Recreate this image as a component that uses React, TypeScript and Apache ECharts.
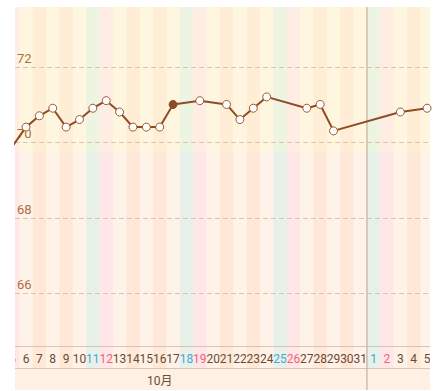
import { useEffect, useRef } from 'react';
import * as echarts from 'echarts';

// Day labels shown on the x axis (Oct 5 2014 .. Nov 5 2014), one per column
const dayLabels = ['5','6','7','8','9','10','11','12','13','14','15','16','17','18','19','20','21','22','23','24','25','26','27','28','29','30','31','1','2','3','4','5'];
// Weekday of each column (0 = Sunday, 6 = Saturday)
const weekdays = [0,1,2,3,4,5,6,0,1,2,3,4,5,6,0,1,2,3,4,5,6,0,1,2,3,4,5,6,0,1,2,3];
// Weight readings per column (null = no record)
const weights: (number | null)[] = [69.9,70.4,70.7,70.9,70.4,70.6,70.9,71.1,70.8,70.4,70.4,70.4,71.0,null,71.1,null,71.0,70.6,70.9,71.2,null,null,70.9,71.0,70.3,null,null,null,null,70.8,null,70.9];
// Highlighted (filled) reading
const highlightIndex = 12;
// Y tick values
const yTicks = [66, 68, 70, 72];
// Months (label, first column index, last column index)
const monthLabels = ['10月', '11月'];
const monthStart = [-4, 27];
const monthEnd = [26, 56];

const X_MIN = 0.177, X_MAX = 31.217;
const Y_MIN = 63.44, Y_MAX = 73.58, BAND_SPLIT = 69.74;

const UPPER = ['#FFF6E0', '#FFEDD5', '#EEF4E2', '#FFEDE3'];
const LOWER = ['#FFF2E8', '#FFE8D8', '#E8F1E9', '#FFE7E7'];
const kindOf = (wd: number) => (wd === 6 ? 2 : wd === 0 ? 3 : wd % 2 === 1 ? 0 : 1);
const labelColor = (wd: number) => (wd === 6 ? '#3FA9DA' : wd === 0 ? '#F2637A' : '#6B4B35');

export default function App() {
  const ref = useRef<HTMLDivElement>(null);
  useEffect(() => {
    const chart = echarts.init(ref.current!, null, { renderer: 'svg' });
    const colData = dayLabels.map((_, i) => [i, kindOf(weekdays[i])]);
    const monthData = monthLabels.map((_, m) => [monthStart[m], monthEnd[m]]);
    const tickData = yTicks.map((v) => [X_MIN, v]);
    const points: any[] = [];
    weights.forEach((v, i) => {
      if (v === null) return;
      if (i === highlightIndex) {
        points.push({ value: [i, v], itemStyle: { color: '#8E4B24', borderColor: '#8E4B24' } });
      } else {
        points.push([i, v]);
      }
    });
    const option: any = {
      animation: false,
      grid: { left: 15, right: 14, top: 7, bottom: 1 },
      xAxis: { type: 'value', min: X_MIN, max: X_MAX, show: false },
      yAxis: { type: 'value', min: Y_MIN, max: Y_MAX, show: false },
      series: [
        {
          type: 'custom',
          z: 1,
          clip: true,
          silent: true,
          data: colData,
          renderItem: (params: any, api: any) => {
            const i = api.value(0) as number;
            const k = api.value(1) as number;
            const cs = params.coordSys;
            const l = api.coord([i - 0.5, Y_MAX])[0];
            const r = api.coord([i + 0.5, Y_MAX])[0];
            const top = cs.y;
            const bottom = cs.y + cs.height;
            const split = api.coord([i, BAND_SPLIT])[1];
            const rowTop = bottom - 43;
            const rowMid = bottom - 21;
            const wd = weekdays[params.dataIndex];
            return {
              type: 'group',
              children: [
                { type: 'rect', shape: { x: l, y: top, width: r - l + 0.6, height: split - top }, style: { fill: UPPER[k] } },
                { type: 'rect', shape: { x: l, y: split, width: r - l + 0.6, height: rowMid - split }, style: { fill: LOWER[k] } },
                {
                  type: 'text',
                  x: (l + r) / 2,
                  y: (rowTop + rowMid) / 2 + 1,
                  style: {
                    text: dayLabels[params.dataIndex],
                    fill: labelColor(wd),
                    font: '12px Roboto, sans-serif',
                    align: 'center', verticalAlign: 'middle',
                    textAlign: 'center', textVerticalAlign: 'middle',
                  },
                },
              ],
            };
          },
        },
        {
          type: 'custom',
          z: 2,
          clip: true,
          silent: true,
          data: tickData,
          renderItem: (params: any, api: any) => {
            const v = api.value(1) as number;
            const cs = params.coordSys;
            const y = Math.round(api.coord([X_MIN, v])[1]) + 0.5;
            return {
              type: 'group',
              children: [
                { type: 'line', shape: { x1: cs.x, y1: y, x2: cs.x + cs.width, y2: y }, style: { stroke: '#E0C2AC', lineWidth: 1, lineDash: [5, 3] } },
                {
                  type: 'text',
                  x: cs.x + 2,
                  y: y - 3,
                  style: {
                    text: String(yTicks[params.dataIndex]),
                    fill: '#AD6E43',
                    font: '13px Roboto, sans-serif',
                    align: 'left', verticalAlign: 'bottom',
                    textAlign: 'left', textVerticalAlign: 'bottom',
                  },
                },
              ],
            };
          },
        },
        {
          type: 'custom',
          z: 3,
          clip: true,
          silent: true,
          data: monthData,
          renderItem: (params: any, api: any) => {
            const s = api.value(0) as number;
            const e = api.value(1) as number;
            const cs = params.coordSys;
            const l = api.coord([s - 0.5, Y_MAX])[0];
            const r = api.coord([e + 0.5, Y_MAX])[0];
            const top = cs.y;
            const bottom = cs.y + cs.height;
            const rowTop = bottom - 43;
            const rowMid = bottom - 21;
            const cx = (l + r) / 2;
            const children: any[] = [
              { type: 'rect', shape: { x: l, y: rowMid, width: r - l, height: bottom - rowMid }, style: { fill: '#FFF0E4' } },
              { type: 'line', shape: { x1: l, y1: rowTop - 0.5, x2: r, y2: rowTop - 0.5 }, style: { stroke: '#DEC4B0', lineWidth: 1 } },
              { type: 'line', shape: { x1: l, y1: rowMid - 0.5, x2: r, y2: rowMid - 0.5 }, style: { stroke: '#DEC4B0', lineWidth: 1 } },
              { type: 'line', shape: { x1: l, y1: top, x2: l, y2: bottom }, style: { stroke: '#C4B09C', lineWidth: 1.2 } },
            ];
            if (cx > cs.x && cx < cs.x + cs.width) {
              children.push({
                type: 'text',
                x: cx,
                y: (rowMid + bottom) / 2 + 1,
                style: {
                  text: monthLabels[params.dataIndex],
                  fill: '#6B4B35',
                  font: '12px Roboto, "Noto Sans CJK SC", sans-serif',
                  align: 'center', verticalAlign: 'middle',
                  textAlign: 'center', textVerticalAlign: 'middle',
                },
              });
            }
            return { type: 'group', children };
          },
        },
        {
          type: 'line',
          z: 6,
          clip: true,
          data: points,
          symbol: 'circle',
          symbolSize: 8,
          showAllSymbol: true,
          itemStyle: { color: '#FFFFFF', borderColor: '#9C5A33', borderWidth: 1 },
          lineStyle: { color: '#8E4B24', width: 2 },
        },
      ],
    };
    chart.setOption(option);
    return () => chart.dispose();
  }, []);
  return <div ref={ref} style={{ width: 444, height: 391, position: 'absolute', left: 0, top: 0 }} />;
}
